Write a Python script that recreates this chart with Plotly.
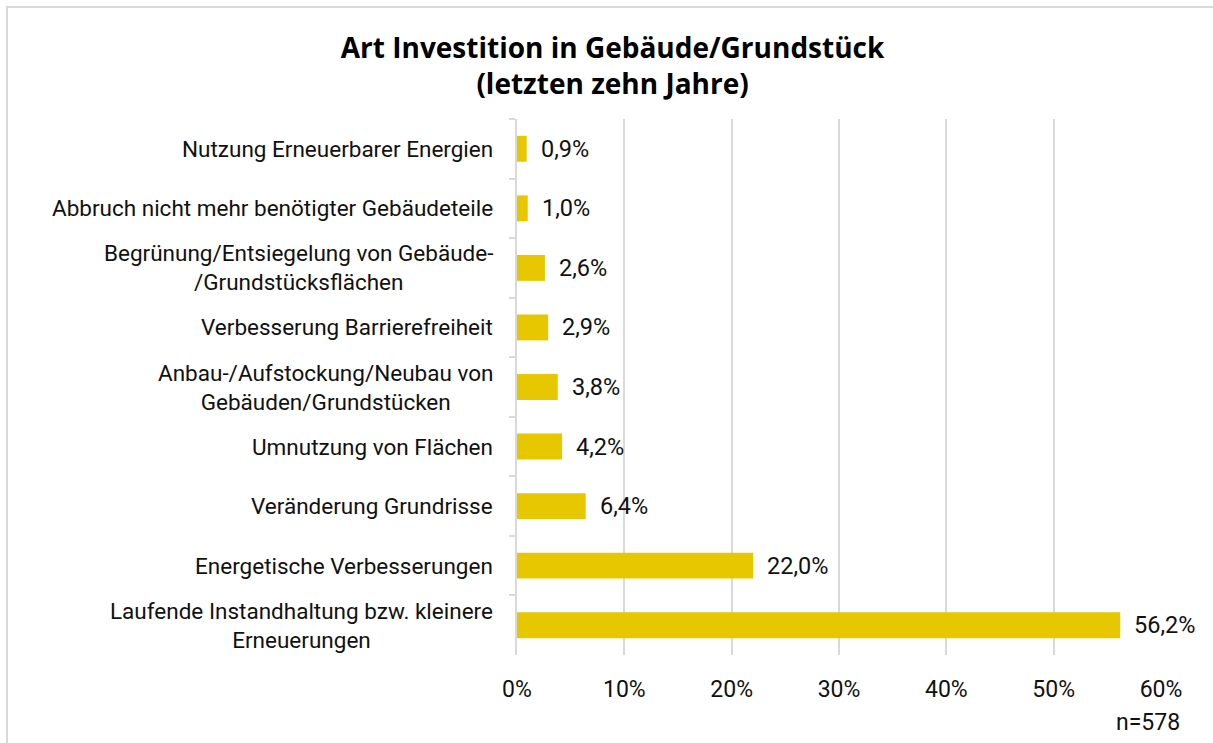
import plotly.graph_objects as go

# Investment categories (top to bottom) and their shares in percent
categories = [
    "Nutzung Erneuerbarer Energien",
    "Abbruch nicht mehr benötigter Gebäudeteile",
    "Begrünung/Entsiegelung von Gebäude-<br>/Grundstücksflächen",
    "Verbesserung Barrierefreiheit",
    "Anbau-/Aufstockung/Neubau von<br>Gebäuden/Grundstücken",
    "Umnutzung von Flächen",
    "Veränderung Grundrisse",
    "Energetische Verbesserungen",
    "Laufende Instandhaltung bzw. kleinere<br>Erneuerungen",
]
shares = [0.9, 1.0, 2.6, 2.9, 3.8, 4.2, 6.4, 22.0, 56.2]
x_ticks = [0, 10, 20, 30, 40, 50, 60]
x_tick_labels = ["0%", "10%", "20%", "30%", "40%", "50%", "60%"]
sample_note = "n=578"

FONT = "Roboto"
TITLE_FONT = "Open Sans"
TEXT = "#111111"
BAR = "#e6c700"
GRID = "#d9d9d9"

W, H = 1213, 743
L, R, T, B = 517, 52, 119, 88
PW, PH = W - L - R, H - T - B


def px_x(px):
    return (px - L) / PW


def px_y(py):
    return (H - B - py) / PH


fig = go.Figure(
    go.Bar(
        x=shares,
        y=categories,
        orientation="h",
        marker=dict(color=BAR, line=dict(width=0)),
        hoverinfo="skip",
    )
)

# Value labels beside each bar
for cat, v in zip(categories, shares):
    fig.add_annotation(
        x=v, y=cat, xref="x", yref="y",
        text=f"{v:.1f}%".replace(".", ","),
        showarrow=False, xanchor="left", xshift=12,
        font=dict(family=FONT, size=23.5, color=TEXT),
    )

# Category labels, centred line by line
for cat in categories:
    fig.add_annotation(
        x=0, y=cat, xref="paper", yref="y",
        text=cat, showarrow=False, xanchor="right", xshift=-22,
        align="center",
        font=dict(family=FONT, size=22.5, color=TEXT),
    )

# Sample size note
fig.add_annotation(
    x=px_x(1182), y=px_y(722), xref="paper", yref="paper",
    xanchor="right", yanchor="middle",
    text=sample_note, showarrow=False,
    font=dict(family=FONT, size=23, color=TEXT),
)

# Outer frame of the chart
fig.add_shape(
    type="rect", xref="paper", yref="paper",
    x0=px_x(7), x1=px_x(W + 10), y0=px_y(H + 10), y1=px_y(7),
    line=dict(color=GRID, width=2), fillcolor="rgba(0,0,0,0)", layer="below",
)

fig.update_layout(
    width=W, height=H,
    margin=dict(l=L, r=R, t=T, b=B),
    paper_bgcolor="white", plot_bgcolor="white",
    bargap=0.565,
    showlegend=False,
    title=dict(
        text="<b>Art Investition in Gebäude/Grundstück<br>(letzten zehn Jahre)</b>",
        x=0.505, xanchor="center", y=1 - 58 / H, yanchor="middle",
        font=dict(family=TITLE_FONT, size=28, color="#000000"),
    ),
    xaxis=dict(
        range=[0, 60], tickvals=x_ticks, ticktext=x_tick_labels,
        showgrid=True, gridcolor=GRID, gridwidth=2,
        zeroline=False, showline=False, ticks="",
        ticklabelstandoff=18,
        tickfont=dict(family=FONT, size=23, color=TEXT),
        fixedrange=True,
    ),
    yaxis=dict(
        categoryorder="array", categoryarray=categories,
        autorange="reversed",
        showticklabels=False,
        ticks="outside", tickson="boundaries", ticklen=6,
        tickcolor=GRID, tickwidth=2,
        showline=True, linecolor=GRID, linewidth=2,
        showgrid=False, zeroline=False, fixedrange=True,
    ),
    font=dict(family=FONT),
)

fig.write_html("out.html")
